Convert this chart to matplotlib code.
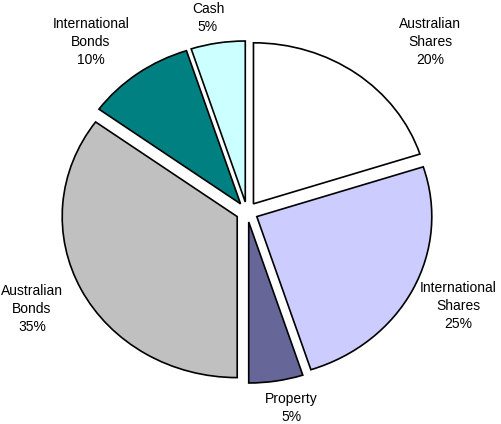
import matplotlib
matplotlib.use("Agg")
import matplotlib.pyplot as plt

labels = ["Australian\nShares", "International\nShares", "Property",
          "Australian\nBonds", "International\nBonds", "Cash"]
shares = [20, 25, 5, 35, 10, 5]
colors = ["#FFFFFF", "#CCCCFF", "#666699", "#C0C0C0", "#008080", "#CCFFFF"]

# layout in pixels: pie centre, horizontal / vertical radius (the original is a bit squashed)
CX, CY, RX, RY = 247, 212, 175, 161
# label centres in pixels from the top-left corner
label_px = [(430, 42), (458, 306), (291, 408), (32, 309), (91, 42), (208, 18)]

fig = plt.figure(figsize=(5.02, 4.24), dpi=100, facecolor="white")
ax = fig.add_axes([0, 0, 1, 1])

wedges, _ = ax.pie(shares, colors=colors, radius=1, startangle=90,
                   counterclock=False, explode=[11 / RX] * len(shares),
                   wedgeprops=dict(edgecolor="black", linewidth=1.2))

for lab, v, (px, py) in zip(labels, shares, label_px):
    ax.text((px - CX) / RX, (CY - py) / RY, f"{lab}\n{v}%", ha="center", va="center",
            fontsize=10, family="Liberation Sans", linespacing=1.35)

ax.set_xlim(-CX / RX, (502 - CX) / RX)
ax.set_ylim((CY - 424) / RY, CY / RY)
ax.set_aspect("auto")
ax.axis("off")

fig.savefig("out.png", dpi=100, facecolor="white")
